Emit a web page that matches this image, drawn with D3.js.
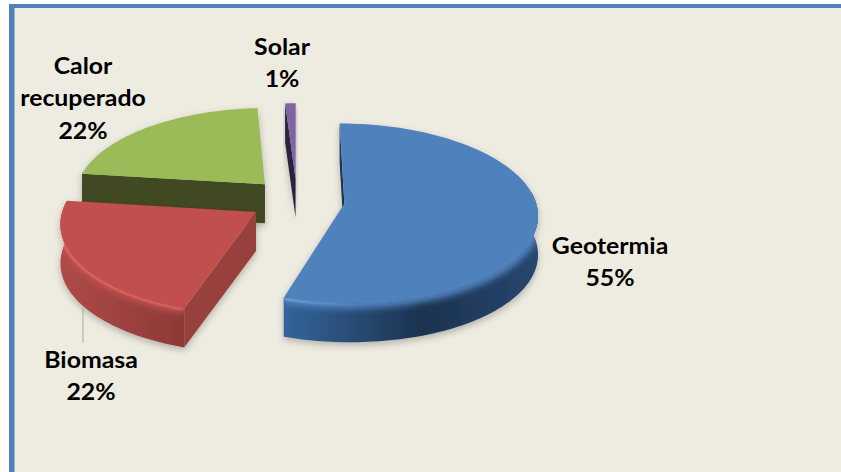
<!DOCTYPE html>
<html>
<head>
<meta charset="UTF-8" />
<title>Energías</title>
<style>
  html, body { margin: 0; padding: 0; background: #fff; }
  text { font-family: Lato, "Open Sans", sans-serif; font-weight: 700; font-size: 23px; fill: #000; text-anchor: middle; }
</style>
</head>
<body>
<div id="chart"></div>
<script src="https://d3js.org/d3.v7.min.js"></script>
<script>
const categories = ["Geotermia", "Biomasa", "Calor recuperado", "Solar"];
const shares = [55, 22, 22, 1];
const percentLabels = ["55%", "22%", "22%", "1%"];

const topColors = ["#4f81bd", "#c0504d", "#9bbb59", "#8064a2"];
const rimColors = ["#7ba6dc", "#e26a66", "#9bbb59", "#8064a2"];
const sideColors = ["#1d3553", "#973f3c", "#3f4a20", "#2c2140"];
const wallLeft = ["#34649a", "#ae4a47", "#6c8238", "#5a4673"];
const wallDark = ["#1c3350", "#8c3a38", "#3f4a20", "#2c2140"];

const width = 841, height = 472;
const cx = 297, cy = 200;      // centro del pastel
const Rx = 191, Ry = 88, p = 0.11;   // elipse y perspectiva
const explode = 0.25, depth = 39;

const svg = d3.select("#chart").append("svg")
  .attr("width", width).attr("height", height);

const defs = svg.append("defs");
const shadow = defs.append("filter").attr("id", "shadow")
  .attr("x", "-20%").attr("y", "-20%").attr("width", "140%").attr("height", "140%");
shadow.append("feDropShadow").attr("dx", 0).attr("dy", 3)
  .attr("stdDeviation", 3.5).attr("flood-color", "#000").attr("flood-opacity", 0.25);
defs.append("filter").attr("id", "soft")
  .append("feGaussianBlur").attr("stdDeviation", 3);
defs.append("filter").attr("id", "softer")
  .append("feGaussianBlur").attr("stdDeviation", 1.2);

// marco
svg.append("rect").attr("x", 9).attr("y", 4).attr("width", 840).attr("height", 480)
  .attr("fill", "#4f81bd");
svg.append("rect").attr("x", 14.5).attr("y", 8).attr("width", 840).attr("height", 480)
  .attr("fill", "#eeece1");

const pie = d3.pie().sort(null)(shares);

// angulo en el plano -> pantalla
function project(angle, r, off) {
  const u = Math.sin(angle) * r + off.u;
  const v = Math.cos(angle) * r + off.v;
  const f = 1 / (1 + p * v);
  return [cx + Rx * u * f, cy - Ry * v * f];
}
const line = d3.line();
const down = pt => [pt[0], pt[1] + depth];

function arcAngles(d) {
  const n = Math.max(2, Math.ceil((d.endAngle - d.startAngle) * 40));
  return d3.range(n + 1).map(i => d.startAngle + (d.endAngle - d.startAngle) * i / n);
}

// de atras hacia adelante
[3, 2, 0, 1].forEach(i => {
  const d = pie[i];
  const mid = (d.startAngle + d.endAngle) / 2;
  const off = { u: Math.sin(mid) * explode, v: Math.cos(mid) * explode };
  const apex = project(0, 0, off);
  const angles = arcAngles(d);
  const arc = angles.map(a => project(a, 1, off));
  const frontArc = angles.filter(a => Math.cos(a) < 0.15).map(a => project(a, 1, off));
  const g = svg.append("g").attr("filter", "url(#shadow)");

  // pared exterior, solo la parte que mira al frente
  if (frontArc.length > 1) {
    const xs = d3.extent(frontArc, a => a[0]);
    const grad = defs.append("linearGradient").attr("id", "wall" + i)
      .attr("gradientUnits", "userSpaceOnUse")
      .attr("x1", xs[0]).attr("x2", xs[1]).attr("y1", 0).attr("y2", 0);
    if (i === 0) {
      grad.append("stop").attr("offset", 0).attr("stop-color", wallLeft[i]);
      grad.append("stop").attr("offset", 0.55).attr("stop-color", wallDark[i]);
      grad.append("stop").attr("offset", 1).attr("stop-color", "#27476e");
    } else {
      grad.append("stop").attr("offset", 0).attr("stop-color", wallLeft[i]);
      grad.append("stop").attr("offset", 1).attr("stop-color", wallDark[i]);
    }
    const wall = line(frontArc.concat(frontArc.map(down).reverse())) + "Z";
    g.append("path").attr("d", wall).attr("fill", `url(#wall${i})`);

    // bisel: borde difuminado sobre la pared
    defs.append("clipPath").attr("id", "clipWall" + i).append("path").attr("d", wall);
    const bevel = g.append("g").attr("clip-path", `url(#clipWall${i})`);
    bevel.append("path").attr("d", line(frontArc))
      .attr("fill", "none").attr("stroke", topColors[i])
      .attr("stroke-width", 11).attr("filter", "url(#soft)");

    const rim = defs.append("linearGradient").attr("id", "rim" + i)
      .attr("gradientUnits", "userSpaceOnUse")
      .attr("x1", xs[0]).attr("x2", xs[1]).attr("y1", 0).attr("y2", 0);
    rim.append("stop").attr("offset", 0).attr("stop-color", rimColors[i]);
    rim.append("stop").attr("offset", i === 0 ? 0.3 : 1)
      .attr("stop-color", rimColors[i]).attr("stop-opacity", i === 0 ? 0 : 0.8);
    bevel.append("path").attr("d", line(frontArc))
      .attr("fill", "none").attr("stroke", `url(#rim${i})`)
      .attr("stroke-width", 4).attr("filter", "url(#softer)");
  }

  // caras radiales que se ven
  const edges = [[angles[0], d.startAngle - Math.PI / 2], [angles[angles.length - 1], d.endAngle + Math.PI / 2]];
  edges.forEach(([a, normal]) => {
    if (Math.cos(normal) > 0.01) return;
    const edge = project(a, 1, off);
    g.append("path")
      .attr("d", line([apex, edge, down(edge), down(apex)]) + "Z")
      .attr("fill", sideColors[i]);
  });

  // cara superior
  g.append("path").attr("d", line([apex].concat(arc)) + "Z").attr("fill", topColors[i]);
});

// linea guia de Biomasa
svg.append("line").attr("x1", 83).attr("x2", 83).attr("y1", 307).attr("y2", 343)
  .attr("stroke", "#a6a6a6").attr("stroke-width", 1);

// etiquetas
const labelLines = [["Geotermia"], ["Biomasa"], ["Calor", "recuperado"], ["Solar"]];
const labelX = [610, 91, 83, 282];
const labelY = [254, 368, 74, 55];
const lineStep = 32.5;
const stretch = 1.08;
categories.forEach((c, i) => {
  const lines = labelLines[i].concat(percentLabels[i]);
  svg.append("text")
    .attr("transform", `translate(${labelX[i]},${labelY[i]}) scale(${stretch},1)`)
    .selectAll("tspan").data(lines).enter().append("tspan")
    .attr("x", 0)
    .attr("y", (t, j) => j * lineStep)
    .text(t => t);
});
</script>
</body>
</html>
